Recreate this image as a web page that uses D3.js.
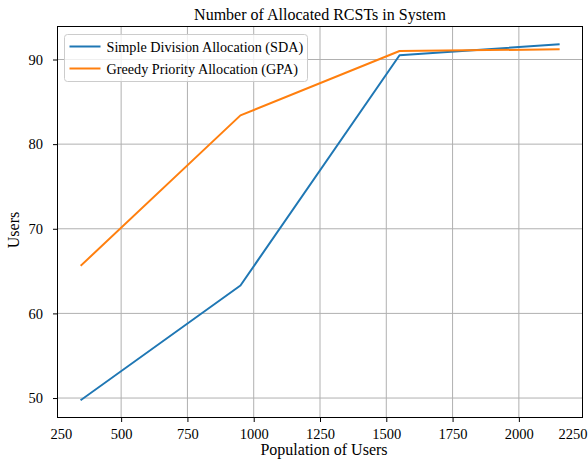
<!DOCTYPE html>
<html>
<head>
<meta charset="utf-8">
<script src="https://cdn.jsdelivr.net/npm/d3@7"></script>
<style>
  html, body { margin: 0; padding: 0; background: #fff; }
  svg text { font-family: "Liberation Serif", "DejaVu Serif", serif; fill: #000; }
</style>
</head>
<body>
<svg id="chart" width="588" height="461"></svg>
<script>
// Population sizes on the x axis
const population = [350, 950, 1550, 2150];
// Allocated users per allocation scheme
const sdaValues = [49.8, 63.3, 90.5, 91.8];
const gpaValues = [65.7, 83.4, 91.0, 91.2];
const seriesNames = ["Simple Division Allocation (SDA)", "Greedy Priority Allocation (GPA)"];
const seriesColors = ["#1f77b4", "#ff7f0e"];
const xTicks = [250, 500, 750, 1000, 1250, 1500, 1750, 2000, 2250];
const yTicks = [50, 60, 70, 80, 90];

const svg = d3.select("#chart");
const plotLeft = 57.5, plotRight = 582.5, plotTop = 26.5, plotBottom = 417.5;
const svgWidth = 588;

// Axis limits with a 5% margin around the data, like the default autoscale
const xMinD = d3.min(population), xMaxD = d3.max(population);
const xPad = (xMaxD - xMinD) * 0.05;
const allY = sdaValues.concat(gpaValues);
const yMinD = d3.min(allY), yMaxD = d3.max(allY);
const yPad = (yMaxD - yMinD) * 0.05;

const x = d3.scaleLinear().domain([xMinD - xPad, xMaxD + xPad]).range([plotLeft, plotRight]);
const y = d3.scaleLinear().domain([yMinD - yPad, yMaxD + yPad]).range([plotBottom, plotTop]);

// Grid
const grid = svg.append("g");
grid.selectAll(".gx").data(xTicks.filter(t => x(t) >= plotLeft && x(t) <= plotRight)).enter()
  .append("line")
  .attr("x1", d => x(d)).attr("x2", d => x(d))
  .attr("y1", plotTop).attr("y2", plotBottom)
  .attr("stroke", "#b0b0b0").attr("stroke-width", 1);
grid.selectAll(".gy").data(yTicks).enter()
  .append("line")
  .attr("x1", plotLeft).attr("x2", plotRight)
  .attr("y1", d => y(d)).attr("y2", d => y(d))
  .attr("stroke", "#b0b0b0").attr("stroke-width", 1);

// Lines
const line = d3.line().x((d, i) => x(population[i])).y(d => y(d));
[sdaValues, gpaValues].forEach((vals, k) => {
  svg.append("path")
    .datum(vals)
    .attr("d", line)
    .attr("fill", "none")
    .attr("stroke", seriesColors[k])
    .attr("stroke-width", 2)
    .attr("stroke-linejoin", "round")
    .attr("stroke-linecap", "square");
});

// Axes
const xAxis = d3.axisBottom(x).tickValues(xTicks).tickSize(4.5).tickPadding(7).tickFormat(d3.format("d"));
const yAxis = d3.axisLeft(y).tickValues(yTicks).tickSize(4.5).tickPadding(10).tickFormat(d3.format("d"));

const gx = svg.append("g").attr("transform", `translate(0,${plotBottom})`).call(xAxis);
const gy = svg.append("g").attr("transform", `translate(${plotLeft},0)`).call(yAxis);
[gx, gy].forEach(g => {
  g.select(".domain").remove();
  g.selectAll(".tick line").attr("stroke", "#000").attr("stroke-width", 1);
  g.selectAll(".tick text").style("font-size", "14.5px").attr("fill", "#000");
});
// Ticks beyond the frame keep their label but lose the mark; keep labels inside the canvas
gx.selectAll(".tick").each(function(d) {
  const t = d3.select(this);
  if (x(d) > plotRight || x(d) < plotLeft) t.select("line").remove();
  const txt = t.select("text");
  const bb = this.getBBox();
  const w = txt.node().getComputedTextLength();
  const cx = x(d);
  if (cx + w / 2 > svgWidth - 1) txt.attr("x", (svgWidth - 1) - w / 2 - cx);
  if (cx - w / 2 < 50) txt.attr("x", 50 + w / 2 - cx);
});

// Frame
svg.append("rect")
  .attr("x", plotLeft).attr("y", plotTop)
  .attr("width", plotRight - plotLeft).attr("height", plotBottom - plotTop)
  .attr("fill", "none").attr("stroke", "#000").attr("stroke-width", 1);

// Title and axis labels
svg.append("text")
  .attr("x", (plotLeft + plotRight) / 2).attr("y", 20)
  .attr("text-anchor", "middle")
  .style("font-size", "16px")
  .text("Number of Allocated RCSTs in System");

svg.append("text")
  .attr("x", 324).attr("y", 455)
  .attr("text-anchor", "middle")
  .style("font-size", "16px")
  .text("Population of Users");

svg.append("text")
  .attr("transform", `translate(19,230) rotate(-90)`)
  .attr("text-anchor", "middle")
  .style("font-size", "16px")
  .text("Users");

// Legend
const legend = svg.append("g");
legend.append("rect")
  .attr("x", 64.5).attr("y", 34.5)
  .attr("width", 243).attr("height", 47)
  .attr("rx", 3).attr("ry", 3)
  .attr("fill", "#fff").attr("fill-opacity", 0.8)
  .attr("stroke", "#cccccc").attr("stroke-width", 1);
seriesNames.forEach((name, i) => {
  const yy = 46.5 + i * 22;
  legend.append("line")
    .attr("x1", 69.5).attr("x2", 100.5)
    .attr("y1", yy).attr("y2", yy)
    .attr("stroke", seriesColors[i]).attr("stroke-width", 2);
  legend.append("text")
    .attr("x", 106.5).attr("y", yy + 5.5)
    .style("font-size", "14.2px")
    .text(name);
});
</script>
</body>
</html>
